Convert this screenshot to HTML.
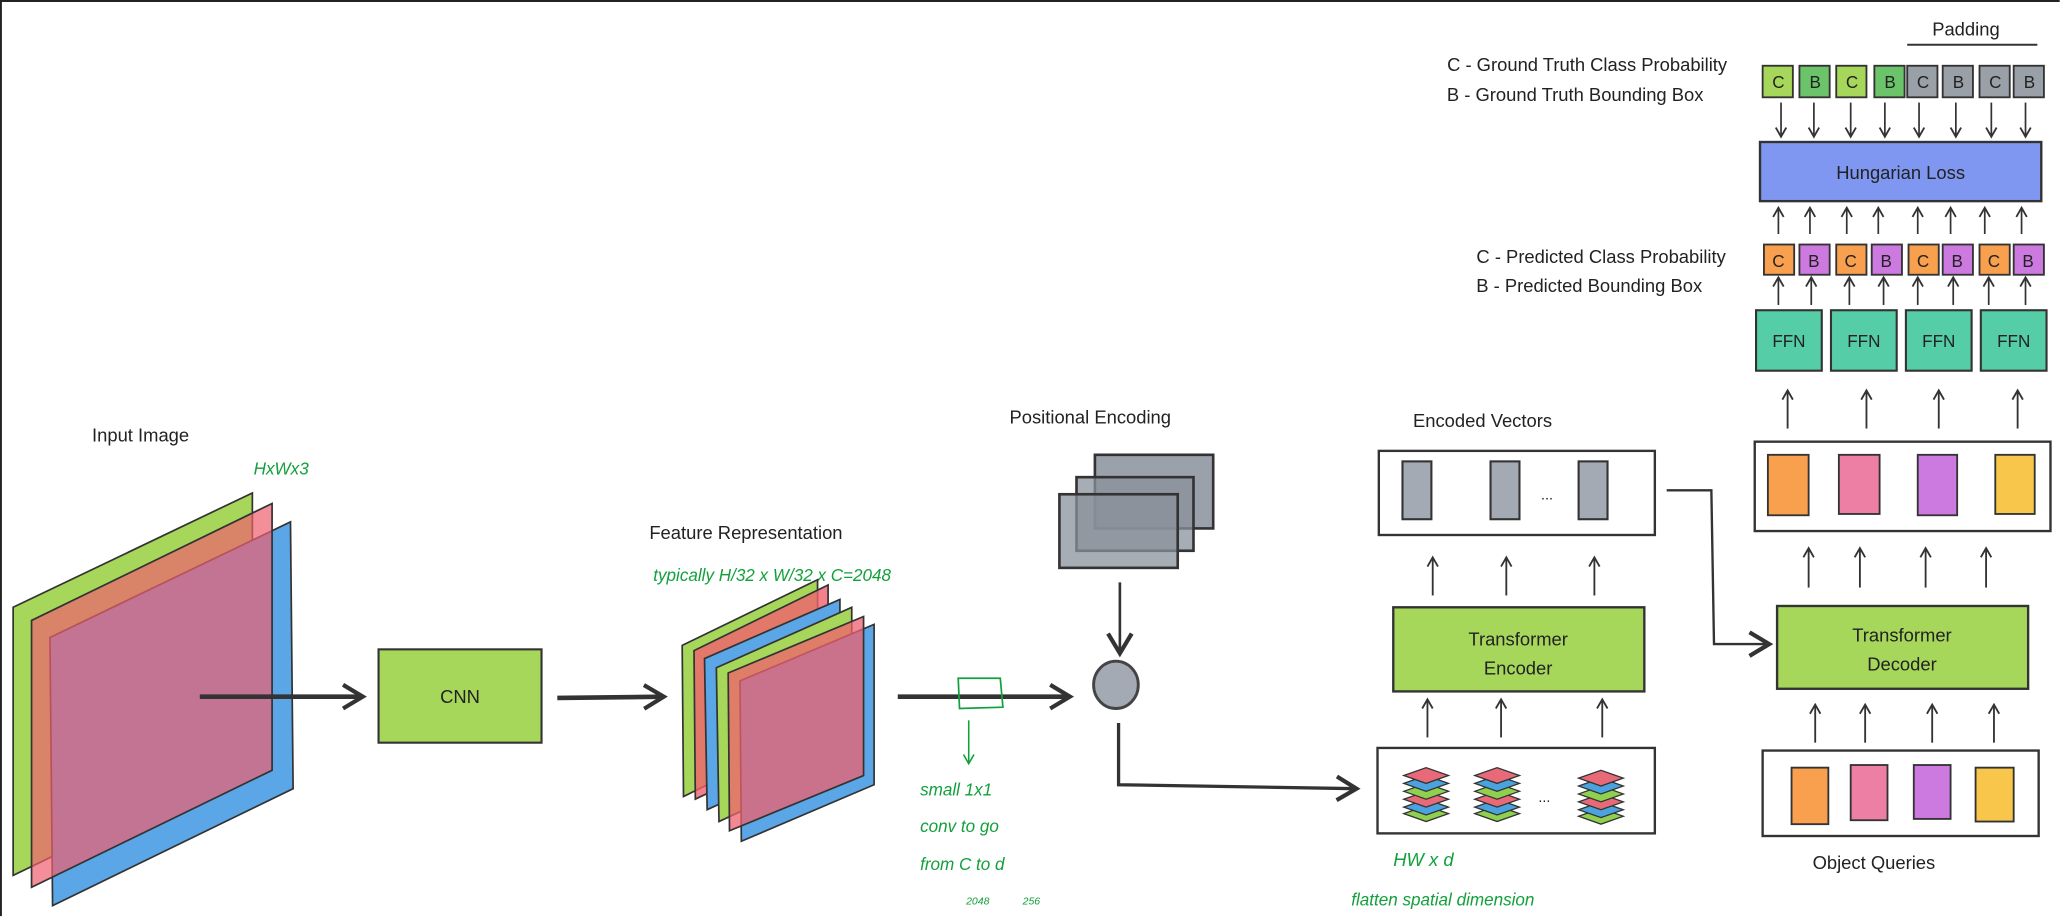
<!DOCTYPE html>
<html><head><meta charset="utf-8"><style>
html,body{margin:0;padding:0;background:#fff;width:2061px;height:917px;overflow:hidden;}
svg{display:block;}
text{font-family:"Liberation Sans","DejaVu Sans",sans-serif;fill:#222;}
.g{fill:#12a03c;font-style:italic;}
</style></head><body>
<svg width="2061" height="917" viewBox="0 0 1568 697.6" xmlns="http://www.w3.org/2000/svg">
<defs>
<marker id="a" markerWidth="10" markerHeight="10" refX="8" refY="5" orient="auto" markerUnits="userSpaceOnUse"><path d="M1,1 L8,5 L1,9" fill="none" stroke="#333" stroke-width="1.4"/></marker>
<marker id="A" markerWidth="22" markerHeight="22" refX="18" refY="11" orient="auto" markerUnits="userSpaceOnUse"><path d="M3,2 L18,11 L3,20" fill="none" stroke="#333" stroke-width="3.2"/></marker>
<marker id="ag" markerWidth="10" markerHeight="10" refX="8" refY="5" orient="auto" markerUnits="userSpaceOnUse"><path d="M1,1 L8,5 L1,9" fill="none" stroke="#12a03c" stroke-width="1.2"/></marker>
<g id="stk">
<path d="M0,35 L17,29 L34,35 L17,41Z" fill="#8fd14f" stroke="#333"/>
<path d="M0,30 L17,24 L34,30 L17,36Z" fill="#4aa3df" stroke="#333"/>
<path d="M0,24 L17,18 L34,24 L17,30Z" fill="#e86a78" stroke="#333"/>
<path d="M0,18 L17,12 L34,18 L17,24Z" fill="#8fd14f" stroke="#333"/>
<path d="M0,12 L17,6 L34,12 L17,18Z" fill="#4aa3df" stroke="#333"/>
<path d="M0,6 L17,0 L34,6 L17,12Z" fill="#e86a78" stroke="#333"/>
</g>
</defs>
<path d="M0.7,697 L0.7,0.7 L1567,0.7" fill="none" stroke="#222" stroke-width="1.5"/>

<text x="70" y="336" font-size="14">Input Image</text>
<text x="193" y="361" font-size="13" class="g">HxWx3</text>
<path d="M10,462 L192,375 L192,578 L10,666Z" fill="#a6d75b" stroke="#333" stroke-width="1.3"/>
<path d="M38,485 L221,397 L223,600 L40,689Z" fill="#5aa6e6" stroke="#333" stroke-width="1.3"/>
<path d="M24,472 L207,383 L207,586 L24,675Z" fill="#f0606e" fill-opacity="0.7" stroke="#333" stroke-width="1.3"/>
<line x1="152" y1="530" x2="276" y2="530" stroke="#333" stroke-width="3.5" marker-end="url(#A)"/>

<rect x="288" y="494" width="124" height="71" fill="#a6d75b" stroke="#333" stroke-width="1.6"/>
<text x="350" y="535" font-size="14" text-anchor="middle">CNN</text>
<line x1="424" y1="531" x2="505" y2="530" stroke="#333" stroke-width="3.5" marker-end="url(#A)"/>

<text x="494" y="410" font-size="14">Feature Representation</text>
<text x="497" y="442" font-size="13" class="g">typically H/32 x W/32 x C=2048</text>
<g stroke="#333" stroke-width="1.3">
<path d="M519,491 L622,441 L622,556 L520,606Z" fill="#a6d75b"/>
<path d="M528,495 L630,445 L630,560 L529,608Z" fill="#f0606e" fill-opacity="0.8"/>
<path d="M536,501 L639,456 L639,570 L538,616Z" fill="#5aa6e6"/>
<path d="M545,508 L648,462 L648,578 L547,625Z" fill="#a6d75b"/>
<path d="M563,518 L665,475 L665,597 L564,640Z" fill="#5aa6e6"/>
<path d="M554,512 L657,469 L657,590 L555,632Z" fill="#f0606e" fill-opacity="0.75"/>
</g>
<line x1="683" y1="530" x2="814" y2="530" stroke="#333" stroke-width="3.5" marker-end="url(#A)"/>
<path d="M729,516 L761,516 L763,538 L730,539Z" fill="none" stroke="#12a03c" stroke-width="1.3"/>
<line x1="737" y1="548" x2="737" y2="581" stroke="#12a03c" stroke-width="1.2" marker-end="url(#ag)"/>
<text x="700" y="605" font-size="13" class="g">small 1x1</text>
<text x="700" y="633" font-size="13" class="g">conv to go</text>
<text x="700" y="662" font-size="13" class="g">from C to d</text>
<text x="735" y="688" font-size="8" class="g">2048</text>
<text x="778" y="688" font-size="8" class="g">256</text>

<text x="768" y="322" font-size="14">Positional Encoding</text>
<g stroke="#333" stroke-width="2">
<rect x="833" y="346" width="90" height="56" fill="#8a919b" fill-opacity="0.85"/>
<rect x="819" y="363" width="89" height="56" fill="#8a919b" fill-opacity="0.75"/>
<rect x="806" y="376" width="90" height="56" fill="#8a919b" fill-opacity="0.75"/>
</g>
<line x1="852" y1="443" x2="852" y2="497" stroke="#333" stroke-width="2" marker-end="url(#A)"/>
<ellipse cx="849" cy="521" rx="17" ry="18" fill="#a4aab3" stroke="#444" stroke-width="2.2"/>
<path d="M851,550 L851,597 L1032,600" fill="none" stroke="#333" stroke-width="2.5" marker-end="url(#A)"/>

<text x="1075" y="325" font-size="14">Encoded Vectors</text>
<rect x="1049" y="343" width="210" height="64" fill="#fff" stroke="#333" stroke-width="1.8"/>
<g fill="#a4aab3" stroke="#333" stroke-width="1.6">
<rect x="1067" y="351" width="22" height="44"/><rect x="1134" y="351" width="22" height="44"/><rect x="1201" y="351" width="22" height="44"/>
</g>
<text x="1177" y="380" font-size="11" text-anchor="middle">...</text>
<g stroke="#333" stroke-width="1.4" marker-end="url(#a)">
<line x1="1090" y1="453" x2="1090" y2="424"/><line x1="1146" y1="453" x2="1146" y2="424"/><line x1="1213" y1="453" x2="1213" y2="424"/>
<line x1="1086" y1="561" x2="1086" y2="532"/><line x1="1142" y1="561" x2="1142" y2="532"/><line x1="1219" y1="561" x2="1219" y2="532"/>
</g>
<rect x="1060" y="462" width="191" height="64" fill="#a6d75b" stroke="#333" stroke-width="1.8"/>
<text x="1155" y="491" font-size="14" text-anchor="middle">Transformer</text>
<text x="1155" y="513" font-size="14" text-anchor="middle">Encoder</text>
<rect x="1048" y="569" width="211" height="65" fill="#fff" stroke="#333" stroke-width="1.8"/>
<use href="#stk" x="1068" y="584"/><use href="#stk" x="1122" y="584"/><use href="#stk" x="1201" y="586"/>
<text x="1175" y="610" font-size="11" text-anchor="middle">...</text>
<text x="1060" y="659" font-size="14" class="g">HW x d</text>
<text x="1028" y="689" font-size="13" class="g">flatten spatial dimension</text>
<path d="M1268,373 L1302,373 L1304,490 L1346,490" fill="none" stroke="#333" stroke-width="1.8" marker-end="url(#A)"/>

<rect x="1352" y="461" width="191" height="63" fill="#a6d75b" stroke="#333" stroke-width="1.8"/>
<text x="1447" y="488" font-size="14" text-anchor="middle">Transformer</text>
<text x="1447" y="510" font-size="14" text-anchor="middle">Decoder</text>
<g stroke="#333" stroke-width="1.4" marker-end="url(#a)">
<line x1="1381" y1="565" x2="1381" y2="536"/><line x1="1419" y1="565" x2="1419" y2="536"/><line x1="1470" y1="565" x2="1470" y2="536"/><line x1="1517" y1="565" x2="1517" y2="536"/>
<line x1="1376" y1="447" x2="1376" y2="417"/><line x1="1415" y1="447" x2="1415" y2="417"/><line x1="1465" y1="447" x2="1465" y2="417"/><line x1="1511" y1="447" x2="1511" y2="417"/>
<line x1="1360" y1="326" x2="1360" y2="297"/><line x1="1420" y1="326" x2="1420" y2="297"/><line x1="1475" y1="326" x2="1475" y2="297"/><line x1="1535" y1="326" x2="1535" y2="297"/>
</g>
<rect x="1341" y="571" width="210" height="65" fill="#fff" stroke="#333" stroke-width="1.8"/>
<g stroke="#333" stroke-width="1.4">
<rect x="1363" y="584" width="28" height="43" fill="#f9a04f"/>
<rect x="1408" y="582" width="28" height="42" fill="#ec7fa3"/>
<rect x="1456" y="582" width="28" height="41" fill="#cc79e0"/>
<rect x="1503" y="584" width="29" height="41" fill="#f7c64a"/>
</g>
<text x="1379" y="661" font-size="14">Object Queries</text>
<rect x="1335" y="336" width="225" height="68" fill="#fff" stroke="#333" stroke-width="1.8"/>
<g stroke="#333" stroke-width="1.4">
<rect x="1345" y="346" width="31" height="46" fill="#f9a04f"/>
<rect x="1399" y="346" width="31" height="45" fill="#ec7fa3"/>
<rect x="1459" y="346" width="30" height="46" fill="#cc79e0"/>
<rect x="1518" y="346" width="30" height="45" fill="#f7c64a"/>
</g>

<g stroke="#333" stroke-width="1.6" fill="#55cda6">
<rect x="1336" y="236" width="50" height="46"/><rect x="1393" y="236" width="50" height="46"/><rect x="1450" y="236" width="50" height="46"/><rect x="1507" y="236" width="50" height="46"/>
</g>
<g font-size="13" text-anchor="middle">
<text x="1361" y="264">FFN</text><text x="1418" y="264">FFN</text><text x="1475" y="264">FFN</text><text x="1532" y="264">FFN</text>
</g>
<g stroke="#333" stroke-width="1.3" marker-end="url(#a)">
<line x1="1353" y1="232" x2="1353" y2="211"/><line x1="1378" y1="232" x2="1378" y2="211"/><line x1="1407" y1="232" x2="1407" y2="211"/><line x1="1433" y1="232" x2="1433" y2="211"/>
<line x1="1459" y1="232" x2="1459" y2="211"/><line x1="1486" y1="232" x2="1486" y2="211"/><line x1="1513" y1="232" x2="1513" y2="211"/><line x1="1541" y1="232" x2="1541" y2="211"/>
<line x1="1353" y1="178" x2="1353" y2="158"/><line x1="1377" y1="178" x2="1377" y2="158"/><line x1="1405" y1="178" x2="1405" y2="158"/><line x1="1429" y1="178" x2="1429" y2="158"/>
<line x1="1459" y1="178" x2="1459" y2="158"/><line x1="1484" y1="178" x2="1484" y2="158"/><line x1="1510" y1="178" x2="1510" y2="158"/><line x1="1538" y1="178" x2="1538" y2="158"/>
<line x1="1355" y1="78" x2="1355" y2="104"/><line x1="1380" y1="78" x2="1380" y2="104"/><line x1="1408" y1="78" x2="1408" y2="104"/><line x1="1434" y1="78" x2="1434" y2="104"/>
<line x1="1460" y1="78" x2="1460" y2="104"/><line x1="1488" y1="78" x2="1488" y2="104"/><line x1="1515" y1="78" x2="1515" y2="104"/><line x1="1541" y1="78" x2="1541" y2="104"/>
</g>
<g stroke="#333" stroke-width="1.4">
<rect x="1342" y="186" width="23" height="23" fill="#f9a04f"/><rect x="1369" y="186" width="23" height="23" fill="#cc79e0"/>
<rect x="1397" y="186" width="23" height="23" fill="#f9a04f"/><rect x="1424" y="186" width="23" height="23" fill="#cc79e0"/>
<rect x="1452" y="186" width="23" height="23" fill="#f9a04f"/><rect x="1478" y="186" width="23" height="23" fill="#cc79e0"/>
<rect x="1506" y="186" width="23" height="23" fill="#f9a04f"/><rect x="1532" y="186" width="23" height="23" fill="#cc79e0"/>
</g>
<g font-size="13" text-anchor="middle">
<text x="1353" y="203">C</text><text x="1380" y="203">B</text><text x="1408" y="203">C</text><text x="1435" y="203">B</text>
<text x="1463" y="203">C</text><text x="1489" y="203">B</text><text x="1517" y="203">C</text><text x="1543" y="203">B</text>
</g>
<text x="1313" y="200" font-size="14" text-anchor="end">C - Predicted Class Probability</text>
<text x="1295" y="222" font-size="14" text-anchor="end">B - Predicted Bounding Box</text>

<rect x="1339" y="108" width="214" height="45" fill="#7f97f0" stroke="#333" stroke-width="1.8"/>
<text x="1446" y="136" font-size="14" text-anchor="middle">Hungarian Loss</text>

<g stroke="#333" stroke-width="1.4">
<rect x="1341" y="50" width="23" height="24" fill="#a6d75b"/><rect x="1369" y="50" width="23" height="24" fill="#6cc46a"/>
<rect x="1397" y="50" width="23" height="24" fill="#a6d75b"/><rect x="1426" y="50" width="23" height="24" fill="#6cc46a"/>
<rect x="1451" y="50" width="23" height="24" fill="#9aa0a7"/><rect x="1478" y="50" width="23" height="24" fill="#9aa0a7"/>
<rect x="1506" y="50" width="23" height="24" fill="#9aa0a7"/><rect x="1532" y="50" width="23" height="24" fill="#9aa0a7"/>
</g>
<g font-size="13" text-anchor="middle">
<text x="1353" y="67">C</text><text x="1381" y="67">B</text><text x="1409" y="67">C</text><text x="1438" y="67">B</text>
<text x="1463" y="67">C</text><text x="1490" y="67">B</text><text x="1518" y="67">C</text><text x="1544" y="67">B</text>
</g>
<text x="1314" y="54" font-size="14" text-anchor="end">C - Ground Truth Class Probability</text>
<text x="1296" y="77" font-size="14" text-anchor="end">B - Ground Truth Bounding Box</text>
<text x="1470" y="27" font-size="14">Padding</text>
<line x1="1451" y1="34" x2="1550" y2="34" stroke="#333" stroke-width="1.5"/>
</svg>
</body></html>
